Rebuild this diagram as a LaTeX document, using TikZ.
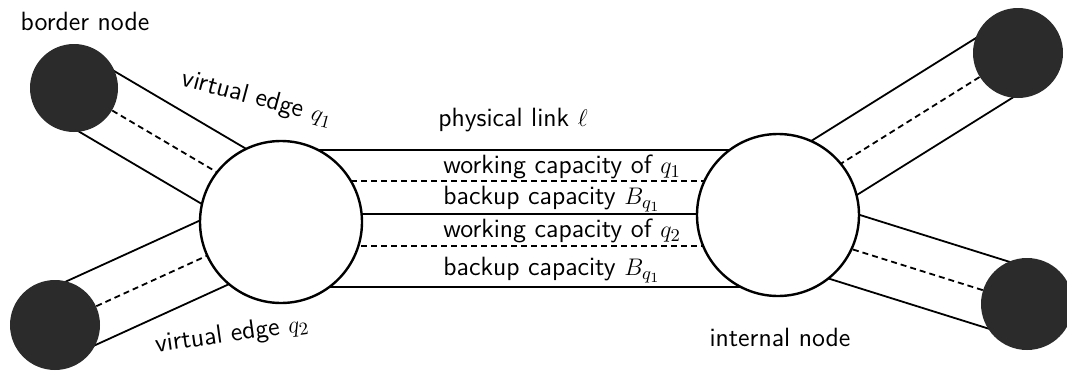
\documentclass[tikz,border=0pt]{standalone}
\usepackage{amsmath,amssymb}
\usepackage{tikz}
\usetikzlibrary{positioning,calc,backgrounds}
\definecolor{nodeDark}{HTML}{2B2B2B}
\tikzset{
  intnode/.style={draw, circle, fill=white, line width=1.2pt, minimum size=81pt, inner sep=0pt},
  bordnode/.style={circle, fill=nodeDark, minimum size=#1, inner sep=0pt},
  bordnode/.default={44pt},
  lbl/.style={font=\sffamily\fontsize{13.2}{16}\selectfont, inner sep=1pt},
  wire/.style={line width=0.9pt},
  backup/.style={wire, dash pattern=on 3pt off 2pt},
}

\begin{document}
\begin{tikzpicture}[x=0.5pt, y=-0.5pt]
\useasboundingbox (0,0) rectangle (1067,370);
\node[intnode] (l) at (281,222) {};
\node[intnode] (r) at (778,215) {};
\node[bordnode] (tl) at (74,88) {};
\node[bordnode=45pt] (bl) at (55,325) {};
\node[bordnode=45pt] (tr) at (1018,53) {};
\node[bordnode=46pt] (br) at (1027,304) {};
\begin{scope}[on background layer]
% physical link
\foreach \y/\s in {150/wire, 181/backup, 214/wire, 246/backup, 287/wire}
  \draw[\s] (l.center |- 0,\y) -- (r.center |- 0,\y);
% virtual edges
\foreach \b/\c/\dy in {tl/l/-12, bl/l/0, tr/r/-12, br/r/11} {
  \coordinate (m) at ($(\c.center)+(0,\dy)$);
  \draw[wire] ($(\b)!17.5pt!90:(m)$) -- ($(m)!17.5pt!-90:(\b)$);
  \draw[wire] ($(\b)!17.5pt!-90:(m)$) -- ($(m)!17.5pt!90:(\b)$);
  \draw[backup] (\b) -- (m);
}
\end{scope}
% labels
\node[lbl] (bn) at (85,21) {border node};
\node[lbl, rotate=-15] (v1) at (257,99) {virtual edge $q_1$};
\node[lbl, rotate=8] (v2) at (232,335) {virtual edge $q_2$};
\node[lbl] (pl) at (513,120) {physical link $\ell$};
\node[lbl, anchor=west] (w1) at (441,167) {working capacity of $q_1$};
\node[lbl, anchor=west] (b1) at (441,199) {backup capacity $B_{q_1}$};
\node[lbl, anchor=west] (w2) at (441,231) {working capacity of $q_2$};
\node[lbl, anchor=west] (b2) at (441,270) {backup capacity $B_{q_1}$};
\node[lbl] (in) at (780,337) {internal node};
\end{tikzpicture}
\end{document}
